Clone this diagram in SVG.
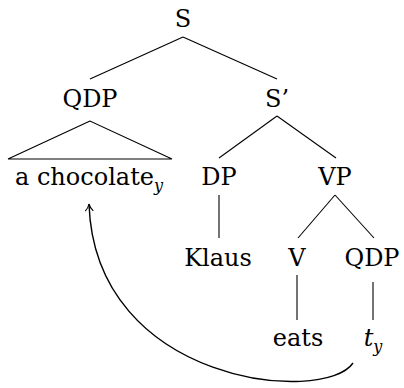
<svg xmlns="http://www.w3.org/2000/svg" width="404" height="388" viewBox="0 0 404 388">
<style>
text{font-family:'DejaVu Serif','Liberation Serif',serif;font-size:24px;fill:#000;text-anchor:middle}
.sub{font-size:16px;font-style:italic}
.it{font-style:italic}
.edge{stroke:#000;stroke-width:1.1;fill:none}
.move{stroke:#000;stroke-width:1.4;fill:none}
</style>
<defs>
<marker id="arr" viewBox="0 0 10 10" refX="9" refY="5" markerWidth="10" markerHeight="10" markerUnits="userSpaceOnUse" orient="auto">
<path d="M2,1 Q5,4 9,5 Q5,6 2,9" fill="none" stroke="#000" stroke-width="1.1"/>
</marker>
</defs>
<g id="connectors">
<line class="edge" x1="183" y1="37" x2="90" y2="79"/>
<line class="edge" x1="183" y1="37" x2="277" y2="79"/>
<polygon class="edge" points="90,121 8,159 172,159"/>
<line class="edge" x1="277" y1="116" x2="219" y2="158"/>
<line class="edge" x1="277" y1="116" x2="336" y2="158"/>
<line class="edge" x1="219" y1="195" x2="219" y2="238"/>
<line class="edge" x1="335" y1="195" x2="298" y2="238"/>
<line class="edge" x1="335" y1="195" x2="374" y2="238"/>
<line class="edge" x1="297" y1="275" x2="297" y2="320"/>
<line class="edge" x1="373" y1="282" x2="373" y2="320"/>
<path class="move" d="M353,363 C325,405 95,385 89,204" marker-end="url(#arr)"/>
</g>
<g id="n-S"><text x="183" y="27">S</text></g>
<g id="n-QDP1"><text x="90" y="107">QDP</text></g>
<g id="n-Sprime"><text x="277" y="107">S’</text></g>
<g id="n-chocolate"><text x="89" y="185">a chocolate<tspan class="sub" dy="6">y</tspan></text></g>
<g id="n-DP"><text x="219" y="185">DP</text></g>
<g id="n-VP"><text x="335" y="185">VP</text></g>
<g id="n-Klaus"><text x="218" y="266">Klaus</text></g>
<g id="n-V"><text x="297" y="266">V</text></g>
<g id="n-QDP2"><text x="372" y="266">QDP</text></g>
<g id="n-eats"><text x="298" y="346">eats</text></g>
<g id="n-t"><text x="373" y="346"><tspan class="it">t</tspan><tspan class="sub" dy="6">y</tspan></text></g>
</svg>
